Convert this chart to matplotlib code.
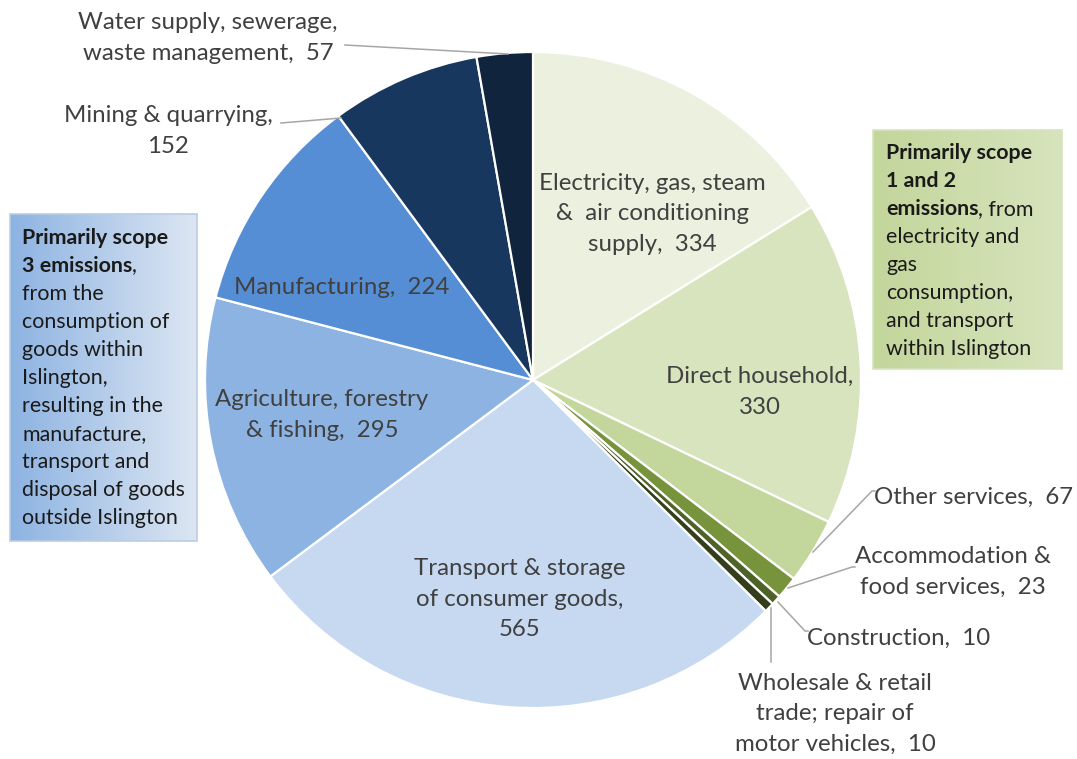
import matplotlib.pyplot as plt
import numpy as np

plt.rcParams['font.family'] = ['Lato', 'DejaVu Sans']

# Emissions by sector, clockwise from 12 o'clock
sectors = [
    'Electricity, gas, steam\n&  air conditioning\nsupply',
    'Direct household',
    'Other services',
    'Accommodation &\nfood services',
    'Construction',
    'Wholesale & retail\ntrade; repair of\nmotor vehicles',
    'Transport & storage\nof consumer goods',
    'Agriculture, forestry\n& fishing',
    'Manufacturing',
    'Mining & quarrying',
    'Water supply, sewerage,\nwaste management',
]
values = [334, 330, 67, 23, 10, 10, 565, 295, 224, 152, 57]
colors = ['#ebf1de', '#d7e4bd', '#c3d69b', '#77933c', '#4f6228', '#333f1a',
          '#c6d9f1', '#8db3e2', '#558ed5', '#17375e', '#10243e']

# label text: name plus value, the way the workbook writes it
labels = [
    'Electricity, gas, steam\n&  air conditioning\nsupply,  334',
    'Direct household,\n330',
    'Other services,  67',
    'Accommodation &\nfood services,  23',
    'Construction,  10',
    'Wholesale & retail\ntrade; repair of\nmotor vehicles,  10',
    'Transport & storage\nof consumer goods,\n565',
    'Agriculture, forestry\n& fishing,  295',
    'Manufacturing,  224',
    'Mining & quarrying,\n152',
    'Water supply, sewerage,\nwaste management,  57',
]

W, H = 1077, 759
fig = plt.figure(figsize=(W / 100, H / 100), dpi=100)
ax = fig.add_axes([0, 0, 1, 1])

cx, cy, r = 533, H - 380, 328
ax.pie(values, colors=colors, startangle=90, counterclock=False,
       center=(cx, cy), radius=r,
       wedgeprops=dict(edgecolor='white', linewidth=1.6))
ax.set_xlim(0, W)
ax.set_ylim(0, H)
ax.set_aspect('equal')
ax.axis('off')

txt = '#404040'
fs = 17.3

# label centres (image pixels, y from top)
label_pos = [
    (652, 214), (760, 392), (974, 497), (953, 572), (899, 638),
    (835, 714), (520, 599), (322, 415), (342, 288), (168, 131), (208, 38),
]
for lab, (x, y) in zip(labels, label_pos):
    ax.text(x, H - y, lab, ha='center', va='center', fontsize=fs,
            color=txt, linespacing=1.55)

# leader lines
leaders = [
    [(345, 45), (508, 54)],
    [(281, 123), (341, 118)],
    [(875, 491), (872, 491), (813, 552)],
    [(855, 567), (852, 567), (788, 588)],
    [(808, 631), (805, 631), (778, 602)],
    [(771, 662), (771, 608)],
]
for pts in leaders:
    xs = [p[0] for p in pts]
    ys = [H - p[1] for p in pts]
    ax.plot(xs, ys, color='#a6a6a6', lw=1.1, zorder=3)


def gradient_box(x0, y0, x1, y1, c_left, c_right, edge):
    grad = np.linspace(0, 1, 256)[None, :, None]
    cl = np.array(plt.matplotlib.colors.to_rgb(c_left))[None, None, :]
    cr = np.array(plt.matplotlib.colors.to_rgb(c_right))[None, None, :]
    img = cl * (1 - grad) + cr * grad
    ax.imshow(img, extent=(x0, x1, H - y1, H - y0), aspect='auto', zorder=4)
    ax.add_patch(plt.Rectangle((x0, H - y1), x1 - x0, y1 - y0, fill=False,
                               edgecolor=edge, lw=1.2, zorder=5))


gradient_box(10, 214, 197, 541, '#8db3e2', '#dce6f2', '#b9cde5')
gradient_box(873, 130, 1062, 369, '#c3d69b', '#d7e4bd', '#d7e4bd')
ax.set_xlim(0, W)
ax.set_ylim(0, H)

fig.canvas.draw()
renderer = fig.canvas.get_renderer()
box_fs = 15.4


def rich_line(x, y, parts):
    # parts: list of (text, bold)
    for s, bold in parts:
        t = ax.text(x, H - y, s, ha='left', va='center', fontsize=box_fs,
                    color='#1a1a1a', fontweight='bold' if bold else 'normal',
                    zorder=6)
        bb = t.get_window_extent(renderer)
        x += bb.width


left_lines = [
    [('Primarily scope', True)],
    [('3 emissions', True), (',', False)],
    [('from the', False)],
    [('consumption of', False)],
    [('goods within', False)],
    [('Islington,', False)],
    [('resulting in the', False)],
    [('manufacture,', False)],
    [('transport and', False)],
    [('disposal of goods', False)],
    [('outside Islington', False)],
]
for i, parts in enumerate(left_lines):
    rich_line(22, 238 + i * 28, parts)

right_lines = [
    [('Primarily scope', True)],
    [('1 and 2', True)],
    [('emissions', True), (', from', False)],
    [('electricity and', False)],
    [('gas', False)],
    [('consumption,', False)],
    [('and transport', False)],
    [('within Islington', False)],
]
for i, parts in enumerate(right_lines):
    rich_line(886, 153 + i * 28, parts)

fig.savefig('out.png', dpi=100)
